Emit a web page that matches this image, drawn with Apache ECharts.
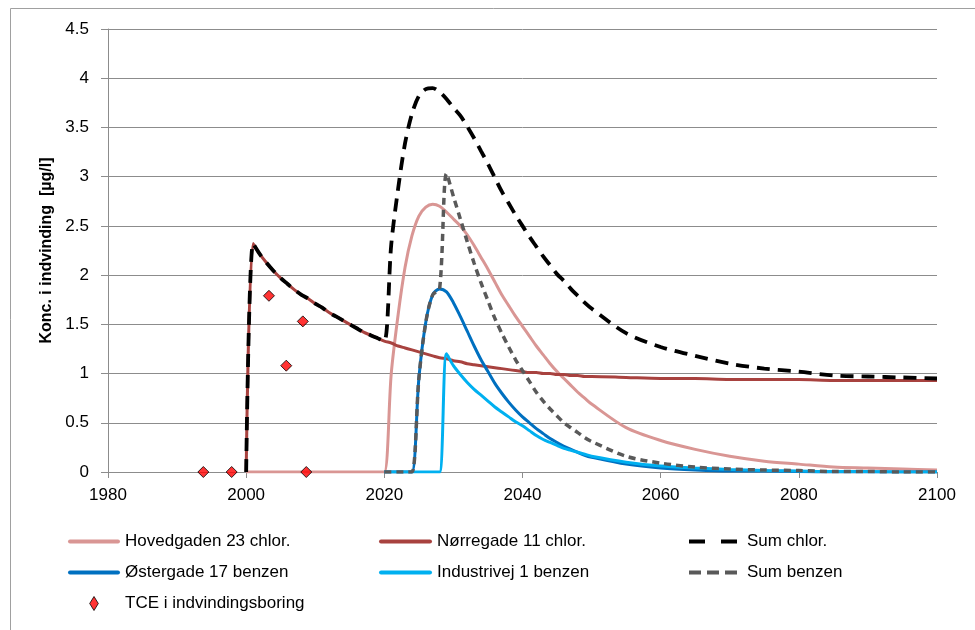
<!DOCTYPE html>
<html>
<head>
<meta charset="utf-8">
<script src="https://cdn.jsdelivr.net/npm/echarts@6/dist/echarts.min.js"></script>
<style>
  html, body { margin: 0; padding: 0; background: #fff; }
  #chart { width: 975px; height: 630px; }
</style>
</head>
<body>
<div id="chart"></div>
<script>
// år for klor-serierne (fra 2000) og benzen-serierne (fra 2020)
const chlorYears = [2000, 2001, 2002, 2003, 2004, 2005, 2006, 2007, 2008, 2009,
  2010, 2011, 2012, 2013, 2014, 2015, 2016, 2017, 2018, 2019,
  2020, 2021, 2022, 2023, 2024, 2025, 2026, 2027, 2028, 2029,
  2030, 2031, 2032, 2033, 2034, 2035, 2036, 2037, 2038, 2039,
  2040, 2041, 2042, 2043, 2044, 2045, 2046, 2047, 2048, 2049, 2050,
  2055, 2060, 2065, 2070, 2075, 2080, 2085, 2090, 2095, 2100]
const benzYears = [2020, 2021, 2022, 2023, 2024, 2025, 2026, 2027, 2028, 2029,
  2030, 2031, 2032, 2033, 2034, 2035, 2036, 2037, 2038, 2039,
  2040, 2041, 2042, 2043, 2044, 2045, 2046, 2047, 2048, 2049, 2050,
  2055, 2060, 2065, 2070, 2075, 2080, 2085, 2090, 2095, 2100]

const hovedgaden = [0, 0, 0, 0, 0, 0, 0, 0, 0, 0,
  0, 0, 0, 0, 0, 0, 0, 0, 0, 0,
  0, 1.0, 1.6, 2.08, 2.4, 2.6, 2.69, 2.72, 2.70, 2.64,
  2.57, 2.50, 2.41, 2.30, 2.18, 2.06, 1.93, 1.80, 1.69, 1.58,
  1.48, 1.38, 1.28, 1.19, 1.10, 1.02, 0.95, 0.88, 0.81, 0.75, 0.69,
  0.45, 0.32, 0.23, 0.16, 0.11, 0.08, 0.05, 0.04, 0.03, 0.02]
const noerregade = [0, 2.32, 2.21, 2.12, 2.04, 1.97, 1.91, 1.85, 1.80, 1.76,
  1.71, 1.67, 1.62, 1.58, 1.54, 1.50, 1.46, 1.42, 1.39, 1.36,
  1.33, 1.31, 1.28, 1.26, 1.24, 1.22, 1.20, 1.18, 1.16, 1.15,
  1.13, 1.12, 1.10, 1.09, 1.08, 1.07, 1.06, 1.05, 1.04, 1.03,
  1.02, 1.01, 1.01, 1.00, 1.00, 0.99, 0.99, 0.98, 0.98, 0.97, 0.97,
  0.96, 0.95, 0.95, 0.94, 0.94, 0.94, 0.93, 0.93, 0.93, 0.93]
const sumChlor = [0, 2.32, 2.21, 2.12, 2.04, 1.97, 1.91, 1.85, 1.80, 1.76,
  1.71, 1.67, 1.62, 1.58, 1.54, 1.50, 1.46, 1.42, 1.39, 1.36,
  1.33, 2.31, 2.88, 3.34, 3.64, 3.82, 3.89, 3.90, 3.86, 3.79,
  3.70, 3.62, 3.51, 3.39, 3.26, 3.13, 2.99, 2.85, 2.73, 2.61,
  2.50, 2.39, 2.29, 2.19, 2.10, 2.01, 1.94, 1.86, 1.79, 1.72, 1.66,
  1.41, 1.27, 1.18, 1.10, 1.05, 1.02, 0.98, 0.97, 0.96, 0.95]

const oestergade = [0, 0, 0, 0, 0, 0.95, 1.52, 1.80, 1.86, 1.83,
  1.72, 1.58, 1.43, 1.28, 1.14, 1.02, 0.90, 0.80, 0.71, 0.63,
  0.56, 0.50, 0.44, 0.39, 0.34, 0.30, 0.26, 0.23, 0.20, 0.17, 0.15,
  0.08, 0.04, 0.02, 0.01, 0.01, 0.005, 0, 0, 0, 0]
const industrivej = [0, 0, 0, 0, 0, 0, 0, 0, 0, 1.20,
  1.08, 0.99, 0.91, 0.84, 0.78, 0.72, 0.66, 0.61, 0.56, 0.51,
  0.47, 0.42, 0.37, 0.33, 0.30, 0.27, 0.24, 0.22, 0.20, 0.18, 0.16,
  0.10, 0.06, 0.04, 0.025, 0.015, 0.01, 0.005, 0.005, 0, 0]
const sumBenzen = [0, 0, 0, 0, 0, 0.95, 1.52, 1.80, 1.86, 3.03,
  2.80, 2.57, 2.34, 2.12, 1.92, 1.74, 1.56, 1.41, 1.27, 1.14,
  1.03, 0.92, 0.81, 0.72, 0.64, 0.57, 0.50, 0.45, 0.40, 0.35, 0.31,
  0.16, 0.09, 0.05, 0.03, 0.02, 0.015, 0.005, 0.005, 0, 0]

// målinger i indvindingsboringen
const tceYears = [1993.8, 1997.9, 2003.3, 2005.8, 2008.2, 2008.7]
const tceValues = [0, 0, 1.79, 1.08, 1.53, 0]

const font = "'Liberation Sans', Arial, sans-serif"
const gridColor = '#8c8c8c'

// legend-ikoner som i Excel
const solidIcon = 'path://M2,0H50A2,2,0,0,1,50,4H2A2,2,0,0,1,2,0Z'
const longDashIcon = 'path://M0,0H16V4H0Z M32,0H48V4H32Z'
const shortDashIcon = 'path://M0,0H12V4H0Z M18,0H30V4H18Z M36,0H48V4H36Z'
const diamondIcon = 'path://M4,0L8,6.5L4,13L0,6.5Z'

function pairs(xs, ys) {
  return xs.map((x, i) => [x, ys[i]])
}

function lineSeries(name, xs, ys, color, dash, width) {
  return {
    name: name,
    type: 'line',
    data: pairs(xs, ys),
    symbol: 'none',
    smooth: 0.3,
    lineStyle: { color: color, width: width || 3, type: dash || 'solid', cap: 'butt' },
    itemStyle: { color: color }
  }
}

const legendBase = {
  orient: 'vertical',
  top: 533,
  padding: 0,
  height: 100,
  itemHeight: 14,
  itemGap: 14,
  selectedMode: false,
  textStyle: { fontFamily: font, fontSize: 17, color: '#000' }
}

const chart = echarts.init(document.getElementById('chart'))
chart.setOption({
  animation: false,
  graphic: [{
    type: 'rect',
    shape: { x: 10.5, y: 8.5, width: 990, height: 700 },
    style: { fill: 'none', stroke: '#a0a0a0', lineWidth: 1 },
    silent: true,
    z: -10
  }],
  grid: { left: 108, right: 38, top: 29, bottom: 158 },
  legend: [
    Object.assign({}, legendBase, {
      left: 68, itemWidth: 52,
      data: [
        { name: 'Hovedgaden 23 chlor.', icon: solidIcon },
        { name: 'Østergade 17 benzen', icon: solidIcon },
        { name: 'TCE i indvindingsboring', icon: diamondIcon,
          itemStyle: { color: '#FF0000', borderColor: '#000', borderWidth: 1 } }
      ]
    }),
    Object.assign({}, legendBase, {
      left: 379, itemWidth: 53,
      data: [
        { name: 'Nørregade 11 chlor.', icon: solidIcon },
        { name: 'Industrivej 1 benzen', icon: solidIcon }
      ]
    }),
    Object.assign({}, legendBase, {
      left: 689, itemWidth: 48,
      textStyle: { fontFamily: font, fontSize: 17, color: '#000', padding: [0, 0, 0, 5] },
      data: [
        { name: 'Sum chlor.', icon: longDashIcon },
        { name: 'Sum benzen', icon: shortDashIcon }
      ]
    })
  ],
  xAxis: {
    type: 'value',
    min: 1980,
    max: 2100,
    interval: 20,
    axisLine: { show: true, lineStyle: { color: gridColor, width: 1 } },
    axisTick: { show: true, length: 6, lineStyle: { color: gridColor } },
    splitLine: { show: false },
    axisLabel: { fontFamily: font, fontSize: 17, color: '#000', margin: 15,
      formatter: v => String(v) }
  },
  yAxis: {
    type: 'value',
    min: 0,
    max: 4.5,
    interval: 0.5,
    name: 'Konc. i indvinding  [µg/l]',
    nameLocation: 'middle',
    nameGap: 52,
    nameTextStyle: { fontFamily: font, fontSize: 16, fontWeight: 'bold', color: '#000' },
    axisLine: { show: true, lineStyle: { color: gridColor, width: 1 } },
    axisTick: { show: true, length: 7, lineStyle: { color: gridColor } },
    splitLine: { show: true, lineStyle: { color: gridColor, width: 1 } },
    axisLabel: { fontFamily: font, fontSize: 17, color: '#000', margin: 19 }
  },
  series: [
    lineSeries('Hovedgaden 23 chlor.', chlorYears, hovedgaden, '#D99694'),
    lineSeries('Nørregade 11 chlor.', chlorYears, noerregade, '#A8423F'),
    lineSeries('Sum chlor.', chlorYears, sumChlor, '#000000', [13, 8], 3.8),
    lineSeries('Østergade 17 benzen', benzYears, oestergade, '#0070C0'),
    lineSeries('Industrivej 1 benzen', benzYears, industrivej, '#00B0F0'),
    lineSeries('Sum benzen', benzYears, sumBenzen, '#595959', [7, 5], 3.5),
    {
      name: 'TCE i indvindingsboring',
      type: 'scatter',
      data: pairs(tceYears, tceValues),
      symbol: 'diamond',
      symbolSize: 11,
      itemStyle: { color: '#FF0000', borderColor: '#000', borderWidth: 1 },
      z: 5
    }
  ]
})
</script>
</body>
</html>
